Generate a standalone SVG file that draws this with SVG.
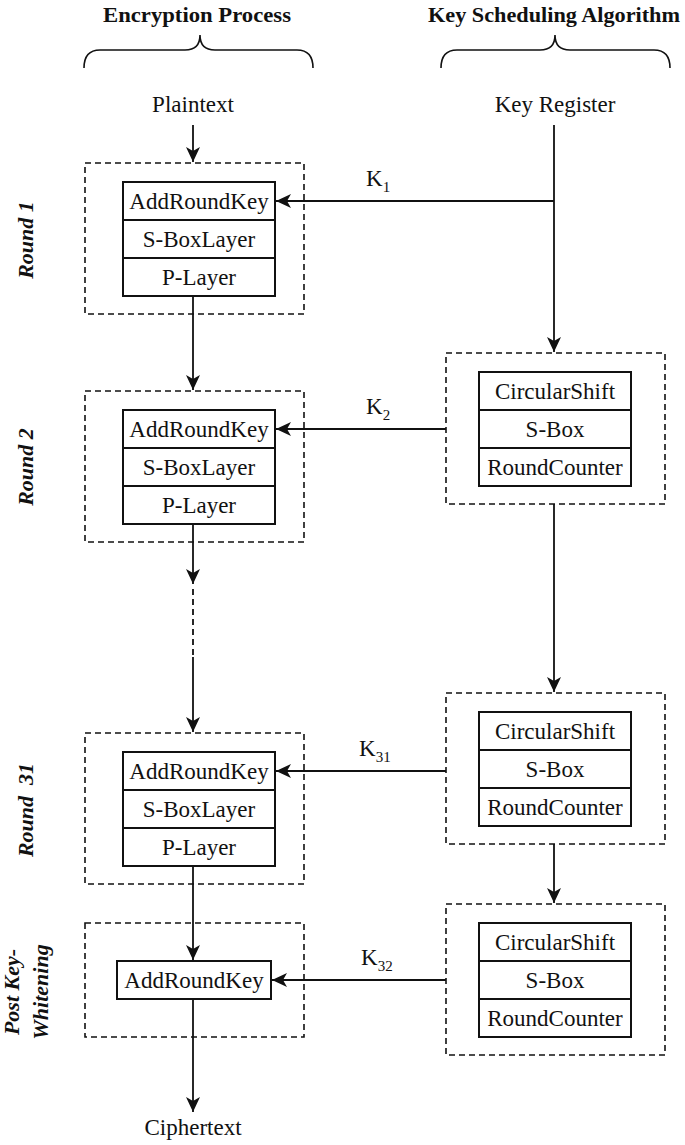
<svg xmlns="http://www.w3.org/2000/svg" width="685" height="1145" viewBox="0 0 685 1145" font-family="Liberation Serif, serif">
<style>
.t{font-size:23px;text-anchor:middle}
.h{font-size:22px;font-weight:bold}
.lab{font-size:22px;font-weight:bold;font-style:italic;text-anchor:middle}
.k{font-size:23px}
.sub{font-size:15px}
.dash{fill:none;stroke:#111;stroke-width:1.6;stroke-dasharray:6,4}
.box{fill:#fff;stroke:#111;stroke-width:2}
.ln{fill:none;stroke:#111;stroke-width:1.8}
.br{fill:none;stroke:#111;stroke-width:1.6}
</style>
<defs>
<marker id="ah" markerUnits="userSpaceOnUse" markerWidth="16" markerHeight="14" refX="15" refY="7" orient="auto">
<path d="M0,0 L15,7 L0,14 L4,7 z" fill="#111"/>
</marker>
</defs>
<rect width="685" height="1145" fill="#fff"/>

<g id="headers" fill="#111">
<text class="h" x="197" y="22" text-anchor="middle" textLength="188" lengthAdjust="spacingAndGlyphs">Encryption Process</text>
<text class="h" x="428" y="22" textLength="252" lengthAdjust="spacingAndGlyphs">Key Scheduling Algorithm</text>
<path class="br" d="M84,68 Q84,50 100,50 L185,50 Q200,50 200,35 Q200,50 215,50 L297,50 Q313,50 313,68"/>
<path class="br" d="M441,68 Q441,50 457,50 L540,50 Q555,50 555,35 Q555,50 570,50 L654,50 Q670,50 670,68"/>
</g>

<g id="plaintext" fill="#111"><text class="t" x="193" y="112">Plaintext</text></g>
<g id="keyregister" fill="#111"><text class="t" x="555" y="112">Key Register</text></g>
<g id="ciphertext" fill="#111"><text class="t" x="193" y="1135">Ciphertext</text></g>

<g id="round1" fill="#111">
<rect class="dash" x="85" y="163" width="219" height="151"/>
<rect class="box" x="123" y="182" width="152" height="38"/>
<rect class="box" x="123" y="220" width="152" height="38"/>
<rect class="box" x="123" y="258" width="152" height="38"/>
<text class="t" x="199" y="209">AddRoundKey</text>
<text class="t" x="199" y="247">S-BoxLayer</text>
<text class="t" x="199" y="285">P-Layer</text>
<text class="lab" transform="translate(33,240) rotate(-90)">Round 1</text>
</g>

<g id="round2" fill="#111">
<rect class="dash" x="85" y="391" width="219" height="151"/>
<rect class="box" x="123" y="410" width="152" height="38"/>
<rect class="box" x="123" y="448" width="152" height="38"/>
<rect class="box" x="123" y="486" width="152" height="38"/>
<text class="t" x="199" y="437">AddRoundKey</text>
<text class="t" x="199" y="475">S-BoxLayer</text>
<text class="t" x="199" y="513">P-Layer</text>
<text class="lab" transform="translate(33,467) rotate(-90)">Round 2</text>
</g>

<g id="round31" fill="#111">
<rect class="dash" x="85" y="733" width="219" height="151"/>
<rect class="box" x="123" y="752" width="152" height="38"/>
<rect class="box" x="123" y="790" width="152" height="38"/>
<rect class="box" x="123" y="828" width="152" height="38"/>
<text class="t" x="199" y="779">AddRoundKey</text>
<text class="t" x="199" y="817">S-BoxLayer</text>
<text class="t" x="199" y="855">P-Layer</text>
<text class="lab" transform="translate(33,810) rotate(-90)" xml:space="preserve">Round  31</text>
</g>

<g id="postwhitening" fill="#111">
<rect class="dash" x="85" y="923" width="219" height="114"/>
<rect class="box" x="117" y="961" width="154" height="38"/>
<text class="t" x="194" y="988">AddRoundKey</text>
<text class="lab" transform="translate(19,992) rotate(-90)">Post Key-</text>
<text class="lab" transform="translate(48,992) rotate(-90)">Whitening</text>
</g>

<g id="keyupdate1" fill="#111">
<rect class="dash" x="446" y="353" width="219" height="151"/>
<rect class="box" x="479" y="372" width="152" height="38"/>
<rect class="box" x="479" y="410" width="152" height="38"/>
<rect class="box" x="479" y="448" width="152" height="38"/>
<text class="t" x="555" y="399">CircularShift</text>
<text class="t" x="555" y="437">S-Box</text>
<text class="t" x="555" y="475">RoundCounter</text>
</g>

<g id="keyupdate2" fill="#111">
<rect class="dash" x="446" y="693" width="219" height="151"/>
<rect class="box" x="479" y="712" width="152" height="38"/>
<rect class="box" x="479" y="750" width="152" height="38"/>
<rect class="box" x="479" y="788" width="152" height="38"/>
<text class="t" x="555" y="739">CircularShift</text>
<text class="t" x="555" y="777">S-Box</text>
<text class="t" x="555" y="815">RoundCounter</text>
</g>

<g id="keyupdate3" fill="#111">
<rect class="dash" x="446" y="904" width="219" height="151"/>
<rect class="box" x="479" y="923" width="152" height="38"/>
<rect class="box" x="479" y="961" width="152" height="38"/>
<rect class="box" x="479" y="999" width="152" height="38"/>
<text class="t" x="555" y="950">CircularShift</text>
<text class="t" x="555" y="988">S-Box</text>
<text class="t" x="555" y="1026">RoundCounter</text>
</g>

<g id="connectors" fill="#111">
<line class="ln" x1="193" y1="125" x2="193" y2="162" marker-end="url(#ah)"/>
<line class="ln" x1="554" y1="125" x2="554" y2="352" marker-end="url(#ah)"/>
<line class="ln" x1="554" y1="201" x2="276" y2="201" marker-end="url(#ah)"/>
<line class="ln" x1="193" y1="296" x2="193" y2="390" marker-end="url(#ah)"/>
<line class="ln" x1="446" y1="429" x2="276" y2="429" marker-end="url(#ah)"/>
<line class="ln" x1="193" y1="524" x2="193" y2="584" marker-end="url(#ah)"/>
<line class="ln" x1="193" y1="589" x2="193" y2="657" stroke-dasharray="6,4"/>
<line class="ln" x1="193" y1="657" x2="193" y2="732" marker-end="url(#ah)"/>
<line class="ln" x1="554" y1="504" x2="554" y2="692" marker-end="url(#ah)"/>
<line class="ln" x1="446" y1="771" x2="276" y2="771" marker-end="url(#ah)"/>
<line class="ln" x1="554" y1="844" x2="554" y2="903" marker-end="url(#ah)"/>
<line class="ln" x1="193" y1="866" x2="193" y2="960" marker-end="url(#ah)"/>
<line class="ln" x1="446" y1="980" x2="272" y2="980" marker-end="url(#ah)"/>
<line class="ln" x1="193" y1="999" x2="193" y2="1112" marker-end="url(#ah)"/>
<text class="k" x="366" y="186">K<tspan class="sub" dy="6">1</tspan></text>
<text class="k" x="366" y="414">K<tspan class="sub" dy="6">2</tspan></text>
<text class="k" x="359" y="756">K<tspan class="sub" dy="6">31</tspan></text>
<text class="k" x="361" y="965">K<tspan class="sub" dy="6">32</tspan></text>
</g>
</svg>
